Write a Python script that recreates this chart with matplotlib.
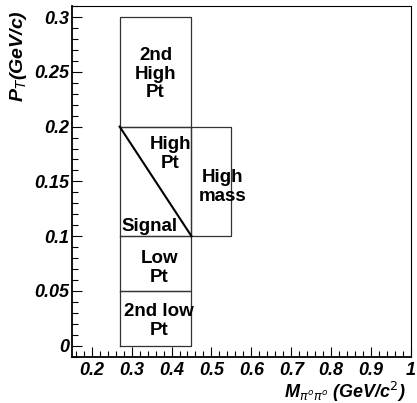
import matplotlib.pyplot as plt
from matplotlib.ticker import MultipleLocator

# regions: (label, x0, x1, y0, y1)
names = ['2nd\nHigh\nPt', 'High\nPt', 'High\nmass', 'Low\nPt', '2nd low\nPt']
x_lo = [0.27, 0.27, 0.45, 0.27, 0.27]
x_hi = [0.45, 0.45, 0.55, 0.45, 0.45]
y_lo = [0.2, 0.1, 0.1, 0.05, 0.0]
y_hi = [0.3, 0.2, 0.2, 0.1, 0.05]
# label positions
lab_x = [0.36, 0.397, 0.527, 0.369, 0.369]
lab_y = [0.248, 0.175, 0.1445, 0.0713, 0.0228]

# diagonal of the signal region
diag_x = [0.27, 0.45]
diag_y = [0.2, 0.1]

plt.rcParams['font.family'] = ['Liberation Sans', 'DejaVu Sans']

fig = plt.figure(figsize=(4.17, 4.03), dpi=100)
ax = fig.add_axes([0.172, 0.1149, 0.8137, 0.870])

for i in range(len(names)):
    ax.plot([x_lo[i], x_hi[i], x_hi[i], x_lo[i], x_lo[i]],
            [y_lo[i], y_lo[i], y_hi[i], y_hi[i], y_lo[i]],
            color='#333333', lw=0.9)
    ax.text(lab_x[i], lab_y[i], names[i], ha='center', va='center',
            fontsize=13.5, fontweight='bold', linespacing=1.15)

ax.plot(diag_x, diag_y, color='black', lw=1.5)
ax.text(0.274, 0.109, 'Signal', ha='left', va='center',
        fontsize=13.5, fontweight='bold')

ax.set_xlim(0.15, 1.0)
ax.set_ylim(-0.01, 0.31)
ax.xaxis.set_minor_locator(MultipleLocator(0.02))
ax.yaxis.set_minor_locator(MultipleLocator(0.01))
ax.set_xticks([0.2, 0.3, 0.4, 0.5, 0.6, 0.7, 0.8, 0.9, 1.0])
ax.set_xticklabels(['0.2', '0.3', '0.4', '0.5', '0.6', '0.7', '0.8', '0.9', '1'])
ax.set_yticks([0, 0.05, 0.1, 0.15, 0.2, 0.25, 0.3])
ax.set_yticklabels(['0', '0.05', '0.1', '0.15', '0.2', '0.25', '0.3'])
ax.tick_params(which='both', direction='in', top=False, right=False)
ax.tick_params(which='major', length=7, width=0.8, labelsize=13)
ax.tick_params(axis='x', which='major', pad=4)
ax.tick_params(axis='y', which='major', pad=2)
ax.tick_params(which='minor', length=4, width=0.8)
for lbl in ax.get_xticklabels() + ax.get_yticklabels():
    lbl.set_fontweight('bold')
    lbl.set_fontstyle('italic')
for s in ax.spines.values():
    s.set_linewidth(0.8)
ax.spines['left'].set_linewidth(1.3)
ax.spines['bottom'].set_linewidth(1.3)

fig.text(0.045, 0.975, 'P$_T$(GeV/c)', rotation=90, ha='center', va='top',
         fontsize=14, fontweight='bold', fontstyle='italic')
fig.text(0.972, 0.028, r'M$_{\pi^o\pi^o}$ (GeV/c$^2$)', ha='right', va='center',
         fontsize=13, fontweight='bold', fontstyle='italic')

fig.savefig('out.png', dpi=100)
